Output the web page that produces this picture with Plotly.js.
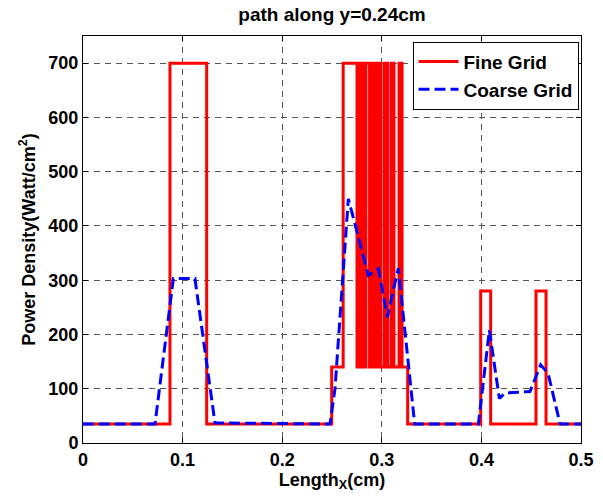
<!DOCTYPE html>
<html>
<head>
<meta charset="utf-8">
<script src="https://cdn.plot.ly/plotly-3.0.1.min.js"></script>
<style>html,body{margin:0;padding:0;background:#fff;}#chart{width:603px;height:499px;}</style>
</head>
<body>
<div id="chart"></div>
<script>
// Fine grid: step transitions (x where value changes, new value) drawn with 'hv' steps
const fineX = [0, 0.0873, 0.1242, 0.2497, 0.2612,
  0.2751, 0.2781, 0.2811, 0.2841, 0.2877, 0.2907, 0.2937, 0.2967,
  0.2992, 0.3027, 0.3057, 0.3092, 0.3122, 0.3173, 0.3203,
  0.326, 0.3993, 0.4093, 0.4548, 0.4649, 0.5];
const fineY = [35, 700, 35, 140, 700,
  140, 700, 140, 700, 140, 700, 140, 700,
  140, 700, 140, 700, 140, 700, 140,
  35, 280, 35, 280, 35, 35];

// Coarse grid: piecewise-linear points
const coarseX = [0, 0.0723, 0.0907, 0.1124, 0.1325, 0.248, 0.253, 0.2664, 0.2865, 0.2965,
  0.3055, 0.3166, 0.333, 0.397, 0.408, 0.418, 0.4237, 0.4488, 0.4595, 0.467, 0.479, 0.5];
const coarseY = [35, 35, 303, 303, 37, 35, 100, 450, 309, 321,
  232, 322, 35, 35, 208, 82, 92, 95, 144, 128, 35, 35];

const xTicks = [0, 0.1, 0.2, 0.3, 0.4, 0.5];
const xTickText = ['0', '0.1', '0.2', '0.3', '0.4', '0.5'];
const yTicks = [0, 100, 200, 300, 400, 500, 600, 700];

const baseFont = {family: 'Liberation Sans, Arial, sans-serif', size: 18, color: '#000', weight: 'bold'};

const traces = [
  {x: fineX, y: fineY, type: 'scatter', mode: 'lines', name: 'Fine Grid',
   line: {color: '#ff0000', width: 3, shape: 'hv'}},
  {x: coarseX, y: coarseY, type: 'scatter', mode: 'lines', name: 'Coarse Grid',
   line: {color: '#0000ff', width: 3, dash: '11px,5px'}}
];

const axisCommon = {
  showline: true, linecolor: '#000', linewidth: 1, mirror: 'ticks',
  ticks: 'inside', ticklen: 5, tickcolor: '#000', tickwidth: 1,
  showgrid: true, gridcolor: '#555', gridwidth: 1, griddash: '6px,5px',
  zeroline: false, tickfont: baseFont
};

const layout = {
  width: 603, height: 499,
  margin: {l: 83, r: 22, t: 36, b: 56},
  paper_bgcolor: '#fff', plot_bgcolor: '#fff',
  font: baseFont,
  showlegend: true,
  title: {text: 'path along y=0.24cm', font: {...baseFont, size: 19},
          x: 0.5, xref: 'paper', xanchor: 'center', y: 0.972, yref: 'container', yanchor: 'middle'},
  xaxis: Object.assign({}, axisCommon, {
    range: [0, 0.5], tickvals: xTicks, ticktext: xTickText,
    title: {text: 'Length<sub>X</sub>(cm)', font: baseFont, standoff: 2}
  }),
  yaxis: Object.assign({}, axisCommon, {
    range: [0, 750], tickvals: yTicks,
    title: {text: 'Power Density(Watt/cm<sup>2</sup>)', font: baseFont, standoff: 8}
  }),
  legend: {
    x: 0.995, y: 0.986, xanchor: 'right', yanchor: 'top',
    bgcolor: '#fff', bordercolor: '#000', borderwidth: 1,
    font: {...baseFont, size: 19}, tracegroupgap: 0, itemwidth: 40
  }
};

Plotly.newPlot('chart', traces, layout, {displayModeBar: false, staticPlot: true});
</script>
</body>
</html>
